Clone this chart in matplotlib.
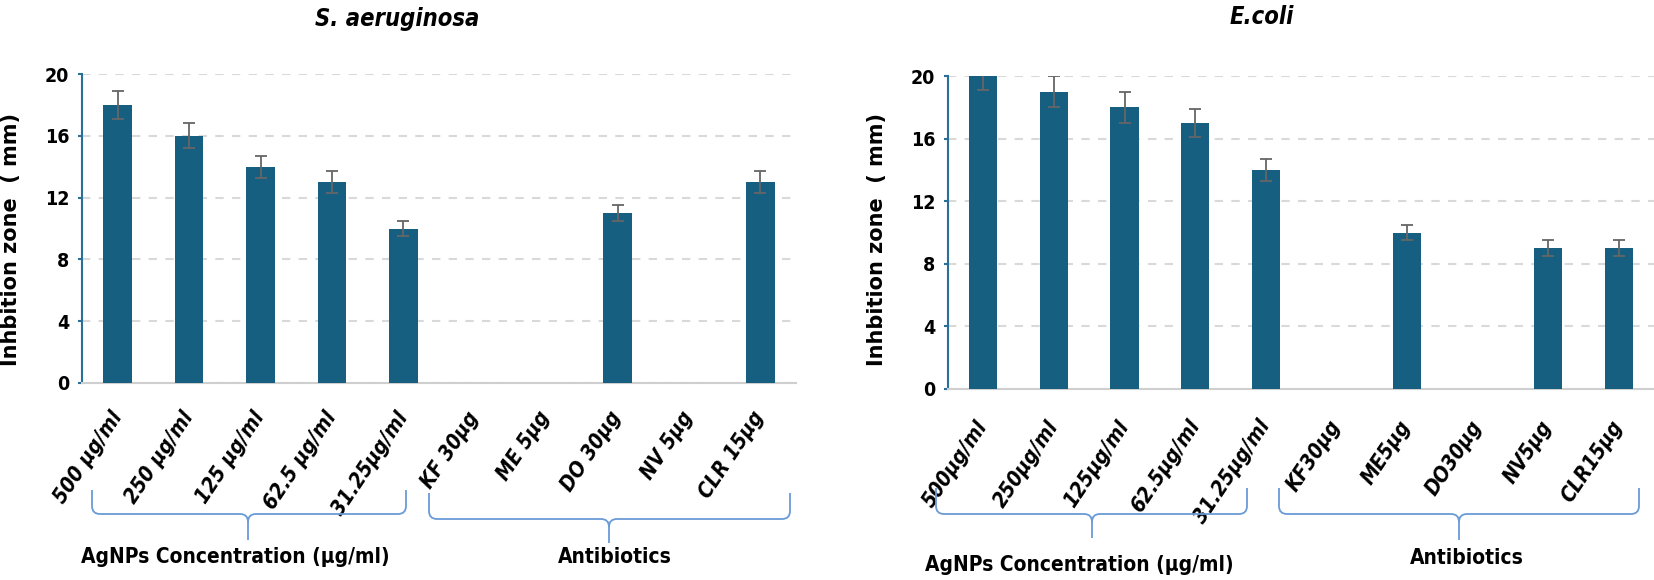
#Python code for plotting
import matplotlib.pyplot as plt
from matplotlib.path import Path
from matplotlib.patches import PathPatch

#Data
cats_left = ['500 µg/ml', '250 µg/ml', '125 µg/ml', '62.5 µg/ml', '31.25µg/ml',
             'KF 30µg', 'ME 5µg', 'DO 30µg', 'NV 5µg', 'CLR 15µg']
vals_left = [18, 16, 14, 13, 10, 0, 0, 11, 0, 13]
err_left = [0.9, 0.8, 0.7, 0.7, 0.5, 0, 0, 0.5, 0, 0.7]

cats_right = ['500µg/ml', '250µg/ml', '125µg/ml', '62.5µg/ml', '31.25µg/ml',
              'KF30µg', 'ME5µg', 'DO30µg', 'NV5µg', 'CLR15µg']
vals_right = [20, 19, 18, 17, 14, 0, 10, 0, 9, 9]
err_right = [0.9, 1.0, 1.0, 0.9, 0.7, 0, 0.5, 0, 0.5, 0.5]

yticks = [0, 4, 8, 12, 16, 20]

#Styles
W, H = 1654, 580
bar_col = '#175f80'
spine_col = '#2a6f97'
brace_col = '#6a9bd8'
cond = dict(family='DejaVu Sans', fontstretch='condensed')

fig = plt.figure(figsize=(W / 100, H / 100), dpi=100)


def px_box(x0, y0, x1, y1):
    #pixel box (top-left origin) -> figure fraction rect
    return [x0 / W, 1 - y1 / H, (x1 - x0) / W, (y1 - y0) / H]


def brace(x0, x1, ytop, yh, yb, xc):
    r = 8
    pts = [(x0, ytop), (x0, yh - r), (x0, yh), (x0 + r, yh), (xc - r, yh), (xc, yh), (xc, yh + r),
           (xc, yb), (xc, yh + r), (xc, yh), (xc + r, yh), (x1 - r, yh), (x1, yh), (x1, yh - r), (x1, ytop)]
    codes = [Path.MOVETO, Path.LINETO, Path.CURVE3, Path.CURVE3, Path.LINETO, Path.CURVE3, Path.CURVE3,
             Path.LINETO, Path.MOVETO, Path.CURVE3, Path.CURVE3, Path.LINETO, Path.CURVE3, Path.CURVE3, Path.LINETO]
    pts = [(x / W, 1 - y / H) for x, y in pts]
    fig.patches.append(PathPatch(Path(pts, codes), transform=fig.transFigure,
                                 fill=False, edgecolor=brace_col, lw=1.3))


def panel(box, cats, vals, errs, title, title_xy, ylabel_x, pad):
    ax = fig.add_axes(px_box(*box))
    x = list(range(len(cats)))
    ax.bar(x, vals, width=0.4, color=bar_col, zorder=3)
    ex = [i for i in x if errs[i] > 0]
    ax.errorbar(ex, [vals[i] for i in ex], yerr=[errs[i] for i in ex], fmt='none',
                ecolor='#666666', elinewidth=1.3, capsize=4.5, capthick=1.3, zorder=4)
    ax.set_xlim(-0.5, len(cats) - 0.5)
    ax.set_ylim(0, 20)
    ax.set_yticks(yticks)
    ax.set_yticklabels([str(t) for t in yticks], fontweight='bold', fontsize=14, **cond)
    ax.set_xticks(x)
    ax.set_xticklabels(cats, rotation=56, ha='right', va='center', rotation_mode='anchor',
                       fontweight='bold', fontstyle='italic', fontsize=15, **cond)
    ax.tick_params(axis='x', length=0, pad=pad)
    ax.tick_params(axis='y', length=3, width=1.5, color=spine_col, pad=6)
    ax.grid(axis='y', linestyle=(0, (4, 4)), color='#d9d9d9', lw=1.5, zorder=0)
    for s in ['top', 'right']:
        ax.spines[s].set_visible(False)
    ax.spines['left'].set_color(spine_col)
    ax.spines['left'].set_linewidth(1.5)
    ax.spines['bottom'].set_color('#cfcfcf')
    ax.spines['bottom'].set_linewidth(1.5)
    fig.text(title_xy[0] / W, 1 - title_xy[1] / H, title, ha='center', va='center',
             fontweight='bold', fontstyle='italic', fontsize=17, **cond)
    fig.text(ylabel_x / W, 1 - 240 / H, 'Inhbition zone  ( mm)', rotation=90, ha='center', va='center',
             fontweight='bold', fontsize=15)
    return ax


panel((82, 74, 796, 383), cats_left, vals_left, err_left, 'S. aeruginosa', (397, 19), 11, 22)
panel((948, 76, 1654, 389), cats_right, vals_right, err_right, 'E.coli', (1262, 17), 877, 24)

#Group braces and labels
brace(92, 406, 490, 514, 540, 248)
brace(429, 790, 493, 519, 543, 609)
brace(936, 1247, 488, 514, 538, 1092)
brace(1279, 1639, 488, 514, 540, 1459)

lab = dict(fontweight='bold', fontsize=15, ha='center', va='center', **cond)
fig.text(235 / W, 1 - 557 / H, 'AgNPs Concentration (µg/ml)', **lab)
fig.text(615 / W, 1 - 557 / H, 'Antibiotics', **lab)
fig.text(1079 / W, 1 - 565 / H, 'AgNPs Concentration (µg/ml)', **lab)
fig.text(1467 / W, 1 - 558 / H, 'Antibiotics', **lab)

#Save the plot
plt.savefig('out.png', dpi=100)
